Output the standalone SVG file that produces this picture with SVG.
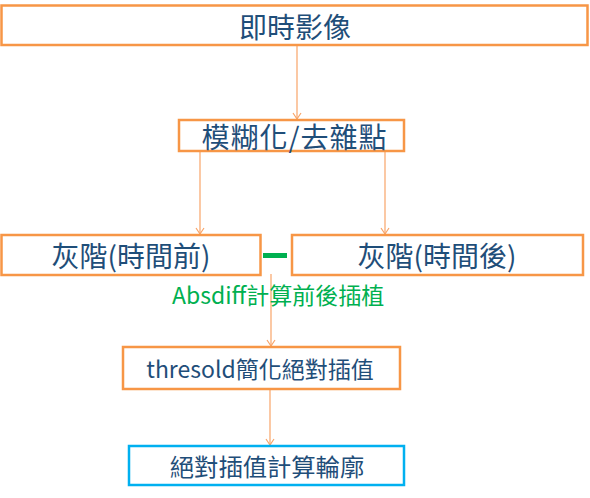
<svg xmlns="http://www.w3.org/2000/svg" width="590" height="498" viewBox="0 0 590 498">
<defs>
<style>
.box{fill:#fff;stroke:#f79646;stroke-width:2.5}
.blue{fill:#fff;stroke:#00b0f0;stroke-width:2.5}
.lbl{font-family:"Noto Sans CJK TC","Noto Sans",sans-serif;fill:#1f4e79;text-anchor:middle;dominant-baseline:central}
.con{stroke:#f8a468;stroke-width:1.2;fill:none}
</style>
<marker id="arr" markerUnits="userSpaceOnUse" markerWidth="12" markerHeight="12" refX="0" refY="0" viewBox="-8 -6 10 12" orient="auto" overflow="visible">
<path d="M-6,-4 L0,0 L-6,4" fill="none" stroke="#f8a468" stroke-width="1.2"/>
</marker>
</defs>
<rect width="590" height="498" fill="#fff"/>
<g id="connectors">
<line class="con" x1="297" y1="46" x2="297" y2="119" marker-end="url(#arr)"/>
<line class="con" x1="200" y1="152" x2="200" y2="234" marker-end="url(#arr)"/>
<line class="con" x1="385" y1="152" x2="385" y2="234" marker-end="url(#arr)"/>
<line class="con" x1="271" y1="274" x2="271" y2="346" marker-end="url(#arr)"/>
<line class="con" x1="270" y1="390" x2="270" y2="445" marker-end="url(#arr)"/>
</g>
<g id="n1">
<rect class="box" x="1.5" y="5.5" width="586" height="39.5"/>
<text class="lbl" x="295" y="25.5" font-size="28">即時影像</text>
</g>
<g id="n2">
<rect class="box" x="179" y="120" width="225" height="31"/>
<text class="lbl" x="294.5" y="135.5" font-size="28" letter-spacing="1">模糊化/去雜點</text>
</g>
<g id="n3">
<rect class="box" x="1.5" y="235" width="259" height="40"/>
<text class="lbl" x="131" y="255" font-size="28">灰階(時間前)</text>
</g>
<g id="n4">
<rect class="box" x="292" y="235" width="291" height="40"/>
<text class="lbl" x="437" y="255" font-size="28">灰階(時間後)</text>
</g>
<g id="minus">
<rect x="263" y="253" width="24" height="5" fill="#00b050"/>
</g>
<g id="absdiff">
<text x="172" y="294" font-size="23" font-family="'Noto Sans CJK TC','Noto Sans',sans-serif" fill="#00b050" dominant-baseline="central">Absdiff計算前後插植</text>
</g>
<g id="n5">
<rect class="box" x="123" y="347" width="277" height="42"/>
<text class="lbl" x="260" y="368" font-size="23">thresold簡化絕對插值</text>
</g>
<g id="n6">
<rect class="blue" x="129" y="446" width="275" height="39"/>
<text class="lbl" x="267" y="465.5" font-size="24.3">絕對插值計算輪廓</text>
</g>
</svg>
